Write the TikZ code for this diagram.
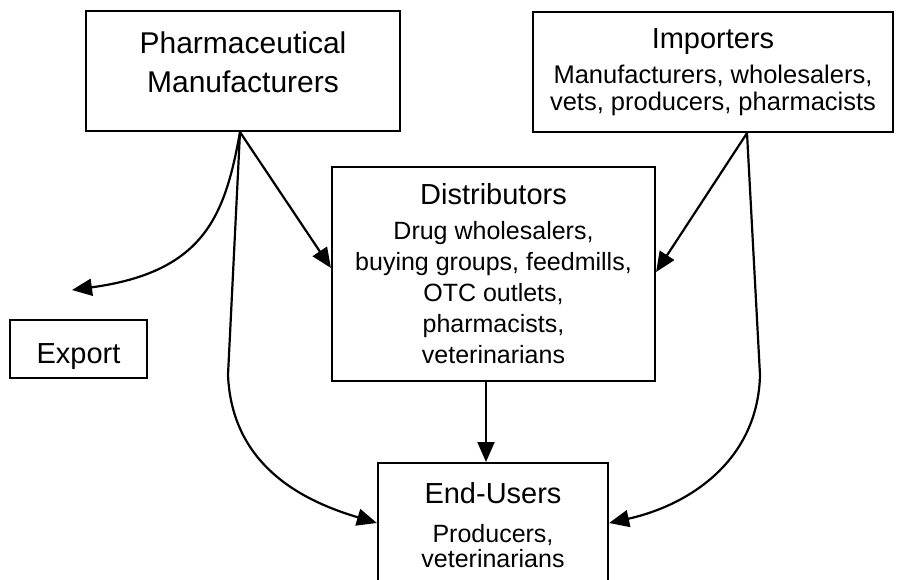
\documentclass[tikz,border=0pt]{standalone}
\usepackage{fontspec}
\setmainfont{Liberation Sans}
\usetikzlibrary{arrows.meta}
\usetikzlibrary{positioning}

\newcommand{\boxtitle}[1]{{\fontsize{29}{29}\selectfont #1}}

\begin{document}
\begin{tikzpicture}[x=1pt, y=-1pt,
  box/.style={draw, line width=2.2pt, align=center, inner sep=0pt},
  sub/.style={font=\fontsize{25}{#1}\selectfont},
  flow/.style={line width=2.2pt, -{Triangle[length=20pt,width=17pt]}}
  ]
  \useasboundingbox (0,0) rectangle (897,580);

  \node [box, minimum width=314pt, minimum height=120pt, text depth=18pt,
    font=\fontsize{30}{39}\selectfont] (pharma) at (243,71) {Pharmaceutical\\Manufacturers};
  \node [box, font=\fontsize{25.5}{27}\selectfont, minimum width=360pt, minimum height=120pt] (imp) at (713,72)
    {\boxtitle{Importers}\\[8pt]Manufacturers, wholesalers,\\vets, producers, pharmacists};
  \node [box, sub=31pt, minimum width=323pt, minimum height=214pt] (dist) at (493.5,274)
    {\boxtitle{Distributors}\\[4pt]Drug wholesalers,\\buying groups, feedmills,\\OTC outlets,\\pharmacists,\\veterinarians};
  \node [box, minimum width=137pt, minimum height=58pt, text height=35pt,
    font=\fontsize{29}{29}\selectfont] (export) at (78.5,349) {Export};
  \node [box, sub=25pt, minimum width=230pt, minimum height=124pt, anchor=north] (eu) at (493,462)
    {\boxtitle{End-Users}\\[14pt]Producers,\\veterinarians};

  \coordinate (pm) at ([xshift=-3pt]pharma.south);
  \coordinate (im) at ([xshift=34pt]imp.south);
  \coordinate (out) at (72,290);

  \draw [flow] (pm) -- ([yshift=6pt]dist.west);
  \draw [flow] (im) -- ([yshift=2pt]dist.east);
  \draw [flow] (pm) .. controls (225,215) and (205,272) .. (out);
  \draw [flow] (pm) -- (228,375) .. controls (232,470) and (310,503) .. ([yshift=-61pt]eu.north west);
  \draw [flow] (im) -- (760,375) .. controls (758,460) and (690,505) .. ([yshift=-61pt]eu.north east);
  \draw [flow] ([xshift=-7.5pt]dist.south) -- ([xshift=-7pt]eu.north);
\end{tikzpicture}
\end{document}
